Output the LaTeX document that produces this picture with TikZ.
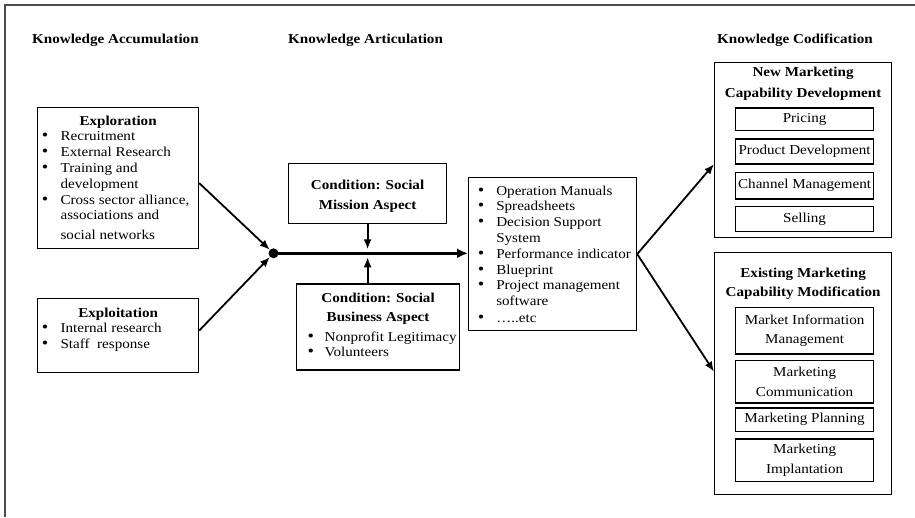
\documentclass[tikz,border=0pt]{standalone}
\usepackage{fontspec}
\setmainfont[FakeStretch=1.11]{Liberation Serif}
\usetikzlibrary{arrows.meta}
\newlength\bo \newlength\bt
\newcommand\bigbul{\raisebox{0pt}{\fontsize{16.5}{16.5}\selectfont\textbullet}}
\newcommand\bul[1]{\par\noindent\hangindent=\bt\hangafter=1\hspace*{\dimexpr\bo-0.5pt\relax}\makebox[0pt][l]{\bigbul}\hspace*{\dimexpr\bt-\bo+0.5pt\relax}#1\par}
\newcommand\bx[3]{\parbox[c][#2pt][t]{#1pt}{#3}}
\begin{document}
\begin{tikzpicture}[x=1pt,y=-1pt,
  font=\fontsize{13.6}{15.8}\selectfont,
  box/.style={draw, line width=1.2pt, inner sep=0pt, anchor=north west},
  sub/.style={draw, line width=1.2pt, inner sep=0pt, anchor=north west, minimum width=138pt, align=center},
  hdr/.style={anchor=base west, inner sep=0pt, font=\fontsize{13.6}{15.8}\selectfont\bfseries},
  arr/.style={line width=1.8pt, -{Latex[length=10pt,width=8pt]}},
  thickarr/.style={line width=3.5pt, -{Latex[length=11pt,width=10pt]}}]
\useasboundingbox (0,0) rectangle (915,517);
\draw[line width=1.5pt, black!70] (5,517) -- (5,5) -- (915,5);

\node[hdr] (h1) at (32,43.3) {Knowledge Accumulation};
\node[hdr] (h2) at (288,43.3) {Knowledge Articulation};
\node[hdr] (h3) at (717,43.3) {Knowledge Codification};

\node[box] (explor) at (37,107) {\bx{161}{141}{\setlength\bo{4.7pt}\setlength\bt{23pt}\vspace*{8pt}%
  {\centering\textbf{Exploration}\par}%
  \bul{Recruitment}\bul{External Research}\bul{Training and\\development}%
  \bul{Cross sector alliance,\\associations and\\[4pt]social networks}}};

\node[box] (exploit) at (37,298) {\bx{161}{74}{\setlength\bo{4.7pt}\setlength\bt{23pt}\vspace*{9pt}%
  {\centering\textbf{Exploitation}\par}%
  \bul{Internal research}\bul{Staff\ \ response}}};

\node[box] (mission) at (288,163) {\bx{158}{60}{\vspace*{16.5pt}%
  {\centering\textbf{Condition: Social}\\[4pt]\textbf{Mission Aspect}\par}}};

\node[box] (business) at (296,283.3) {\bx{163}{86}{\setlength\bo{11.5pt}\setlength\bt{28pt}\vspace*{9.2pt}%
  {\centering\textbf{Condition: Social}\\[3.5pt]\textbf{Business Aspect}\par}\vspace{3.5pt}%
  \bul{Nonprofit~Legitimacy}\bul{Volunteers}}};

\node[box] (items) at (468,177) {\bx{168}{153}{\setlength\bo{9.7pt}\setlength\bt{27.7pt}\vspace*{8pt}%
  \bul{Operation Manuals}\bul{Spreadsheets}\bul{Decision Support\\System}%
  \bul{Performance~indicator}\bul{Blueprint}\bul{Project management\\software}%
  \vspace{1.5pt}\bul{…..etc}}};

\node[box] (new) at (714,62) {\bx{177}{175}{\vspace*{4.8pt}%
  {\centering\textbf{New Marketing}\\[5pt]\textbf{Capability Development}\par}}};
\node[sub, minimum height=22.7pt] (pricing) at (735,107.3) {Pricing};
\node[sub, minimum height=25pt] (proddev) at (735,138.3) {Product Development};
\node[sub, minimum height=26.6pt] (channel) at (735,171.7) {Channel Management};
\node[sub, minimum height=24.7pt] (selling) at (735,206) {Selling};

\node[box] (exist) at (714,252) {\bx{177}{242}{\vspace*{15.5pt}%
  {\centering\textbf{Existing Marketing}\\[3pt]\textbf{Capability Modification}\par}}};
\node[sub, minimum height=46.6pt] (mim) at (735,306.7) {Market Information\\[4pt]Management};
\node[sub, minimum height=42.3pt] (mc) at (735,360) {Marketing\\[4pt]Communication};
\node[sub, minimum height=23.4pt] (mp) at (735,407.3) {Marketing Planning};
\node[sub, minimum height=42.4pt] (mi) at (735,438.3) {Marketing\\[4pt]Implantation};

\node[circle, fill=black, inner sep=0pt, minimum size=10pt] (dot) at (273.5,253.3) {};

\draw[thickarr] (dot.center) -- (items.west |- dot.center);
\draw[arr] ([yshift=-5pt]explor.east) -- (dot);
\draw[arr] ([yshift=5pt]exploit.east) -- (dot);
\draw[arr] (mission.south) -- ([yshift=4pt]mission.south |- dot.center);
\draw[arr] (business.north -| mission.south) -- ([yshift=-4pt]mission.south |- dot.center);
\draw[arr] (items.east) -- ([yshift=-14pt]new.west);
\draw[arr] (items.east) -- ([yshift=2pt]exist.west);
\end{tikzpicture}
\end{document}
